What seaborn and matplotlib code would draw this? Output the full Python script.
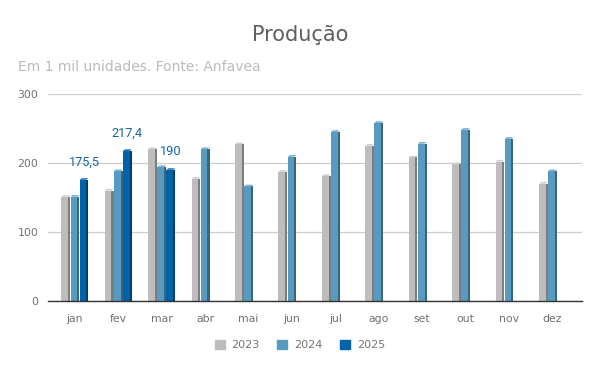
import pandas as pd
import numpy as np
import matplotlib
matplotlib.use("Agg")
import matplotlib.pyplot as plt
from matplotlib.patches import Rectangle, Polygon
import seaborn as sns

meses = ["jan", "fev", "mar", "abr", "mai", "jun", "jul", "ago", "set", "out", "nov", "dez"]
anos = ["2023", "2024", "2025"]
prod_2023 = [151, 160, 220, 177, 227, 187, 181, 225, 208, 198, 202, 170]
prod_2024 = [151, 188, 194, 220, 166, 209, 245, 258, 228, 248, 235, 188]
prod_2025 = [175.5, 217.4, 190]
rotulos_2025 = ["175,5", "217,4", "190"]

cores = {"2023": "#bdbdbd", "2024": "#579cc0", "2025": "#0062a8"}
lados = {"2023": "#7d7d7d", "2024": "#3b6679", "2025": "#003e6e"}
topos = {"2023": "#cfcfcf", "2024": "#79b2d0", "2025": "#2a7cbc"}

# monta a tabela longa
rows = []
for i, m in enumerate(meses):
    rows.append((m, "2023", prod_2023[i]))
    rows.append((m, "2024", prod_2024[i]))
    rows.append((m, "2025", prod_2025[i] if i < len(prod_2025) else np.nan))
df = pd.DataFrame(rows, columns=["mes", "ano", "valor"])

sns.set_style("white")
plt.rcParams["font.family"] = ["DejaVu Sans"]

fig = plt.figure(figsize=(6, 3.71), dpi=100)
ax = fig.add_axes([48 / 600, 1 - 301 / 371, (582 - 48) / 600, (301 - 94) / 371])

sns.barplot(data=df, x="mes", y="valor", hue="ano", hue_order=anos, order=meses,
            palette=cores, width=0.63, gap=0.04, saturation=1, linewidth=0,
            legend=False, ax=ax)

# lado escuro e topo das barras (efeito 3d)
for bar, ano in zip(ax.patches, np.repeat(anos, len(meses))):
    h = bar.get_height()
    if not np.isfinite(h) or h == 0:
        continue
    x, w = bar.get_x(), bar.get_width()
    ax.add_patch(Rectangle((x + w * 0.76, 0), w * 0.24, h, color=lados[ano], lw=0, zorder=3))
    ax.add_patch(Polygon([(x, h), (x + w * 0.76, h), (x + w, h + 2.5), (x + w * 0.2, h + 2.5)],
                         closed=True, color=topos[ano], lw=0, zorder=3))

# rotulos 2025
bars_2025 = ax.patches[2 * len(meses):3 * len(meses)]
for bar, txt in zip(bars_2025, rotulos_2025):
    ax.annotate(txt, (bar.get_x() + bar.get_width() / 2, bar.get_height()),
                xytext=(0, 13), textcoords="offset points", ha="center", va="center",
                fontsize=9.2, color="#1565a8", family=["Roboto", "DejaVu Sans"])

ax.set_ylim(0, 300)
ax.set_xlim(-0.62, 11.68)
ax.set_yticks([0, 100, 200, 300])
ax.yaxis.grid(True, color="#cccccc", lw=0.9)
ax.set_axisbelow(True)
for s in ["top", "right", "left"]:
    ax.spines[s].set_visible(False)
ax.spines["bottom"].set_color("#333333")
ax.spines["bottom"].set_linewidth(1)
ax.spines["bottom"].set_zorder(4)
ax.tick_params(axis="both", length=0, labelsize=7.8, labelcolor="#707070")
ax.tick_params(axis="x", pad=9)
ax.tick_params(axis="y", pad=7)
ax.set_xlabel("")
ax.set_ylabel("")

fig.text(0.5, 1 - 35 / 371, "Produção", ha="center", va="center", fontsize=15,
         color="#5f5f5f", family=["DejaVu Sans"])
fig.text(18 / 600, 1 - 67 / 371, "Em 1 mil unidades. Fonte: Anfavea", ha="left", va="center",
         fontsize=10, color="#bbbbbb", family=["DejaVu Sans"])

handles = [Rectangle((0, 0), 1, 1, color=cores[a]) for a in anos]
fig.legend(handles, anos, loc="center", bbox_to_anchor=(0.5, 1 - 345 / 371), ncol=3,
           frameon=False, fontsize=8, labelcolor="#757575", handlelength=0.9,
           handleheight=0.9, handletextpad=0.6, columnspacing=1.6)

fig.savefig("out.png", dpi=100)
